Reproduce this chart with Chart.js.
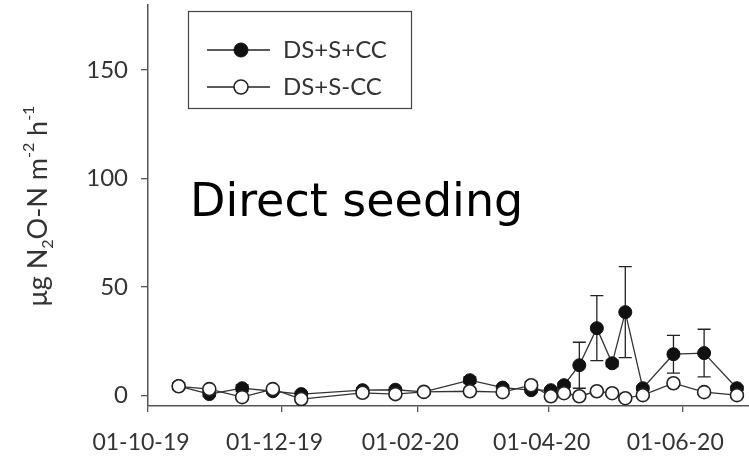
<!DOCTYPE html>
<html>
<head>
<meta charset="utf-8">
<script src="https://cdn.jsdelivr.net/npm/chart.js@4.4.1/dist/chart.umd.min.js"></script>
<style>
  html, body { margin: 0; padding: 0; background: #fff; }
</style>
</head>
<body>
<canvas id="n2o" width="749" height="459"></canvas>
<script>
// sampling campaigns (direct seeding plots)
const startDate = "2019-10-01";
const sampleDates = [
  "2019-10-15", "2019-10-29", "2019-11-13", "2019-11-27", "2019-12-10",
  "2020-01-07", "2020-01-22", "2020-02-04", "2020-02-25", "2020-03-11",
  "2020-03-24", "2020-04-02", "2020-04-08", "2020-04-15", "2020-04-23",
  "2020-04-30", "2020-05-06", "2020-05-14", "2020-05-28", "2020-06-11",
  "2020-06-26"
];
const withCC = [4.2, 0.5, 3.2, 1.8, 0.5, 2.3, 2.5, 1.5, 6.9, 3.5, 2.3, 2.3, 4.6, 13.8, 30.9, 14.7, 38.3, 3.2, 18.9, 19.4, 3.2];
const withCCErr = [1, 1, 1.5, 1, 1, 1, 1, 1, 1.5, 1, 1, 1, 1, 10.6, 15, 1.5, 21, 1, 8.7, 11, 1];
const noCC = [4.1, 2.8, -0.9, 2.8, -1.8, 1.1, 0.5, 1.5, 1.8, 1.4, 4.6, -0.5, 0.9, -0.5, 1.8, 0.9, -1.4, 0, 5.5, 1.4, 0];
const noCCErr = [1.5, 1, 1, 1, 1, 1, 1, 1, 1, 1, 1.5, 1, 1, 1, 1, 1, 1, 1, 1, 1, 1];
const seriesNames = ["DS+S+CC", "DS+S-CC"];
const tickDates = ["2019-10-01", "2019-12-01", "2020-02-01", "2020-04-01", "2020-06-01"];
const tickLabels = ["01-10-19", "01-12-19", "01-02-20", "01-04-20", "01-06-20"];
const yTicks = [0, 50, 100, 150];

const FONT = "Lato";
const INK = "#333";

function dayOf(d) {
  return (Date.parse(d) - Date.parse(startDate)) / 86400000;
}
function toPoints(vals) {
  return sampleDates.map((d, i) => ({ x: dayOf(d), y: vals[i] }));
}

// vertical error bars with caps, drawn under the markers
const errorBars = {
  id: "errorBars",
  beforeDatasetsDraw(chart) {
    const ctx = chart.ctx, xs = chart.scales.x, ys = chart.scales.y;
    ctx.save();
    ctx.strokeStyle = "#222";
    ctx.lineWidth = 1.3;
    chart.data.datasets.forEach(ds => {
      ds.data.forEach((p, i) => {
        const e = ds.errors[i];
        if (!e) return;
        const px = xs.getPixelForValue(p.x);
        const top = ys.getPixelForValue(p.y + e);
        const bot = ys.getPixelForValue(p.y - e);
        ctx.beginPath();
        ctx.moveTo(px, top); ctx.lineTo(px, bot);
        ctx.moveTo(px - 6.5, top); ctx.lineTo(px + 6.5, top);
        ctx.moveTo(px - 6.5, bot); ctx.lineTo(px + 6.5, bot);
        ctx.stroke();
      });
    });
    ctx.restore();
  }
};

// boxed legend in the upper left, line-through markers
const boxLegend = {
  id: "boxLegend",
  afterDraw(chart) {
    const ctx = chart.ctx;
    ctx.save();
    ctx.strokeStyle = "#444";
    ctx.lineWidth = 1.2;
    ctx.strokeRect(188.5, 11.5, 223, 97);
    const rows = [50, 87];
    chart.data.datasets.forEach((ds, i) => {
      const y = rows[i];
      ctx.strokeStyle = "#222";
      ctx.lineWidth = 1.3;
      ctx.beginPath();
      ctx.moveTo(207, y); ctx.lineTo(270, y);
      ctx.stroke();
      ctx.beginPath();
      ctx.arc(241, y, 7, 0, Math.PI * 2);
      ctx.fillStyle = ds.pointBackgroundColor;
      ctx.fill();
      ctx.lineWidth = ds.pointBorderWidth;
      ctx.strokeStyle = ds.pointBorderColor;
      ctx.stroke();
      ctx.fillStyle = INK;
      ctx.font = "24px " + FONT;
      ctx.textBaseline = "middle";
      ctx.fillText(ds.label, 283, y);
    });
    ctx.restore();
  }
};

// y title with sub/superscripts, plus the panel caption
const annotations = {
  id: "annotations",
  afterDraw(chart) {
    const ctx = chart.ctx;
    ctx.save();
    const parts = [
      ["\u03bcg N", 0], ["2", 1], ["O-N m", 0], ["-2", -1], [" h", 0], ["-1", -1]
    ];
    const big = "27px " + FONT, small = "16px " + FONT;
    let total = 0;
    parts.forEach(p => { ctx.font = p[1] ? small : big; total += ctx.measureText(p[0]).width; });
    ctx.translate(47, 206);
    ctx.rotate(-Math.PI / 2);
    ctx.fillStyle = INK;
    ctx.textBaseline = "alphabetic";
    let x = -total / 2;
    parts.forEach(p => {
      ctx.font = p[1] ? small : big;
      const dy = p[1] === 1 ? 6 : p[1] === -1 ? -13 : 0;
      ctx.fillText(p[0], x, dy);
      x += ctx.measureText(p[0]).width;
    });
    ctx.restore();

    ctx.save();
    ctx.fillStyle = "#000";
    ctx.font = "46px 'DejaVu Sans'";
    ctx.textBaseline = "alphabetic";
    ctx.fillText("Direct seeding", 190, 216);
    ctx.restore();
  }
};

new Chart(document.getElementById("n2o"), {
  type: "line",
  data: {
    datasets: [
      {
        label: seriesNames[0],
        data: toPoints(withCC),
        errors: withCCErr,
        borderColor: "#333",
        borderWidth: 1.3,
        pointRadius: 6.5,
        pointBackgroundColor: "#111",
        pointBorderColor: "#111",
        pointBorderWidth: 1,
        order: 2
      },
      {
        label: seriesNames[1],
        data: toPoints(noCC),
        errors: noCCErr,
        borderColor: "#333",
        borderWidth: 1.3,
        pointRadius: 6.5,
        pointBackgroundColor: "#fff",
        pointBorderColor: "#222",
        pointBorderWidth: 1.6,
        order: 1
      }
    ]
  },
  options: {
    responsive: false,
    animation: false,
    devicePixelRatio: 1,
    layout: { autoPadding: false, padding: { top: 5, right: 0, bottom: 0, left: 0 } },
    plugins: { legend: { display: false }, tooltip: { enabled: false } },
    scales: {
      x: {
        type: "linear",
        min: 0,
        max: 274.5,
        afterBuildTicks: s => { s.ticks = tickDates.map(d => ({ value: dayOf(d) })); },
        afterFit: s => { s.height = 53; s.paddingLeft = 0; s.paddingRight = 0; },
        ticks: {
          callback: (v, i) => tickLabels[i],
          font: { family: FONT, size: 23 },
          color: INK,
          labelOffset: -7,
          padding: 17,
          maxRotation: 0,
          autoSkip: false
        },
        grid: { drawOnChartArea: false, tickLength: 6, color: "#555", lineWidth: 1.3 },
        border: { color: "#555", width: 1.5 }
      },
      y: {
        min: -5,
        max: 180,
        afterBuildTicks: s => { s.ticks = yTicks.map(v => ({ value: v })); },
        afterFit: s => { s.width = 148; s.paddingTop = 0; s.paddingBottom = 0; },
        ticks: {
          font: { family: FONT, size: 24 },
          color: INK,
          padding: 13
        },
        grid: { drawOnChartArea: false, tickLength: 7, color: "#555", lineWidth: 1.3 },
        border: { color: "#555", width: 1.5 }
      }
    }
  },
  plugins: [errorBars, boxLegend, annotations]
});
</script>
</body>
</html>
